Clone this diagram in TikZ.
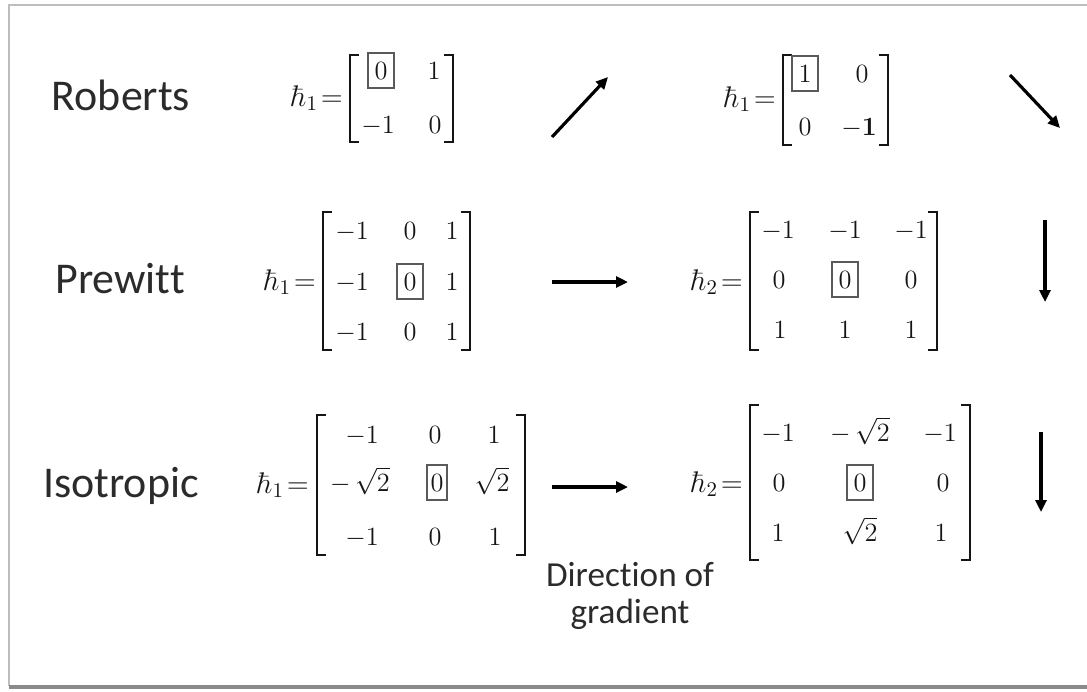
\RequirePackage{fix-cm}
\documentclass[tikz,border=0pt]{standalone}
\usepackage{amsmath}
\usepackage[no-math]{fontspec}
\newfontfamily\calibri[Ligatures=NoCommon]{Carlito}
\usepackage{tikz}
\usetikzlibrary{arrows.meta,positioning}
\definecolor{ink}{HTML}{2B2B2B}
\definecolor{mth}{HTML}{151515}
\definecolor{boxc}{HTML}{5A5A5A}
\definecolor{frm}{HTML}{BDBDBD}
\definecolor{shd}{HTML}{8A8A8A}
\tikzset{
  rowlbl/.style={font=\calibri\fontsize{25}{30}\selectfont,text=ink,anchor=base,inner sep=0pt},
  hlbl/.style={font=\fontsize{17}{20}\selectfont,text=mth,anchor=base east,inner sep=0pt},
  ent/.style={font=\fontsize{15}{17}\selectfont,text=mth,anchor=base,inner sep=0pt},
  cen/.style={ent,draw=boxc,line width=0.7pt,minimum width=0.52cm,minimum height=0.7cm},
  brk/.style={line width=0.8pt,draw=mth},
  dirarr/.style={-{Triangle[length=2.4mm,width=2.2mm]},line width=1.8pt,color=black},
  dirlbl/.style={font=\calibri\fontsize{20}{21}\selectfont,text=ink,align=center,inner sep=0pt}}
% square brackets of a matrix: left x, right x, top y, bottom y
\newcommand\mbrackets[4]{%
  \draw[brk] (#1+9,#3) -- (#1,#3) -- (#1,#4) -- (#1+9,#4);
  \draw[brk] (#2-9,#3) -- (#2,#3) -- (#2,#4) -- (#2-9,#4);}
\begin{document}
\begin{tikzpicture}[x=0.02cm,y=-0.02cm]
\useasboundingbox (0,0) rectangle (1087,691);
% frame
\draw[frm,line width=0.8pt] (9,686) -- (9,5) -- (1087,5);
\draw[shd,line width=2pt] (9,687) -- (1087,687);

% Roberts
\node[rowlbl] (rob) at (121,110) {Roberts};
\node[hlbl] (robAh) at (343,106) {$\hbar_1\mkern-3mu=$};
\mbrackets{350}{453}{55}{142}
\node[cen] (robA11) at (381,79) {$0$};
\foreach \n/\x/\y/\t in {robA12/434/79/1, robA21/378/133/-1, robA22/435/133/0}
  \node[ent] (\n) at (\x,\y) {$\t$};
\coordinate (robAs) at (552,137); \coordinate (robAe) at (608,77);
\draw[dirarr] (robAs) -- (robAe);
\node[hlbl] (robBh) at (776,107) {$\hbar_1\mkern-3mu=$};
\mbrackets{783}{888}{55}{145}
\node[cen] (robB11) at (805,82) {$1$};
\foreach \n/\x/\y/\t in {robB12/862/82/0, robB21/805/135/0, robB22/859/135/{-\mathbf{1}}}
  \node[ent] (\n) at (\x,\y) {$\t$};
\coordinate (robBs) at (1010,75); \coordinate (robBe) at (1060,128);
\draw[dirarr] (robBs) -- (robBe);

% Prewitt
\node[rowlbl] (pre) at (120,293) {Prewitt};
\node[hlbl] (preAh) at (316,290) {$\hbar_1\mkern-3mu=$};
\mbrackets{323}{470}{212}{350}
\node[cen] (preA22) at (410,290) {$0$};
\foreach \n/\x/\y/\t in {preA11/352/239/-1, preA12/410/239/0, preA13/452/239/1,
                         preA21/352/290/-1, preA23/452/290/1,
                         preA31/352/340/-1, preA32/410/340/0, preA33/452/340/1}
  \node[ent] (\n) at (\x,\y) {$\t$};
\coordinate (preAs) at (552,282); \coordinate (preAe) at (628,282);
\draw[dirarr] (preAs) -- (preAe);
\node[hlbl] (preBh) at (743,290) {$\hbar_2\mkern-3mu=$};
\mbrackets{750}{937}{212}{350}
\node[cen] (preB22) at (845,288) {$0$};
\foreach \n/\x/\y/\t in {preB11/778/238/-1, preB12/845/238/-1, preB13/911/238/-1,
                         preB21/779/288/0, preB23/911/288/0,
                         preB31/780/338/1, preB32/845/338/1, preB33/911/338/1}
  \node[ent] (\n) at (\x,\y) {$\t$};
\coordinate (preBs) at (1045,220); \coordinate (preBe) at (1045,302);
\draw[dirarr] (preBs) -- (preBe);

% Isotropic
\node[rowlbl] (iso) at (121,497) {Isotropic};
\node[hlbl] (isoAh) at (309,493) {$\hbar_1\mkern-3mu=$};
\mbrackets{317}{525}{415}{555}
\node[cen,minimum width=0.4cm] (isoA22) at (437,491) {$0$};
\foreach \n/\x/\y/\t in {isoA11/362/443/-1, isoA12/435/443/0, isoA13/494/443/1,
                         isoA21/360/491/{-\,\smash[t]{\sqrt{2}}}, isoA23/492/491/{\smash[t]{\sqrt{2}}},
                         isoA31/362/545/-1, isoA32/435/545/0, isoA33/495/545/1}
  \node[ent] (\n) at (\x,\y) {$\t$};
\coordinate (isoAs) at (552,487); \coordinate (isoAe) at (628,487);
\draw[dirarr] (isoAs) -- (isoAe);
\node[hlbl] (isoBh) at (743,492) {$\hbar_2\mkern-3mu=$};
\mbrackets{750}{970}{405}{560}
\node[cen] (isoB22) at (860,491) {$0$};
\foreach \n/\x/\y/\t in {isoB11/778/441/-1, isoB12/860/441/{-\,\sqrt{2}}, isoB13/940/441/-1,
                         isoB21/779/491/0, isoB23/943/491/0,
                         isoB31/778/541/1, isoB32/860/541/{\smash[t]{\sqrt{2}}}, isoB33/941/541/1}
  \node[ent] (\n) at (\x,\y) {$\t$};
\coordinate (isoBs) at (1041,432); \coordinate (isoBe) at (1041,512);
\draw[dirarr] (isoBs) -- (isoBe);

\node[dirlbl] (dir) at (630,596) {Direction of\\gradient};
\end{tikzpicture}
\end{document}
